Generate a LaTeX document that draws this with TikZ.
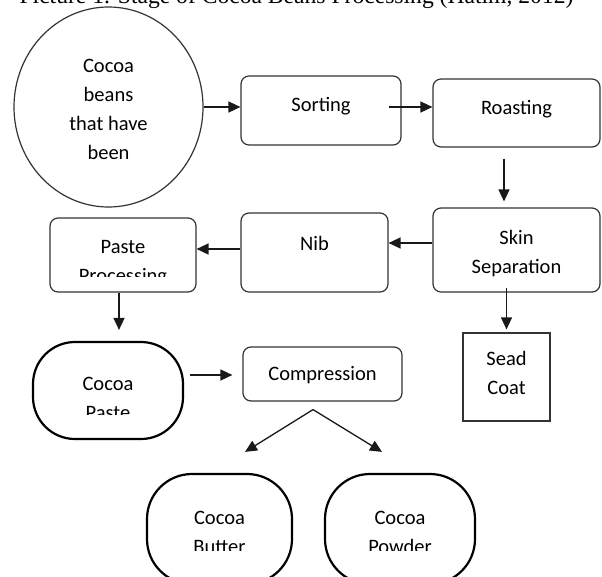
\documentclass[tikz,border=0pt]{standalone}
\usepackage{fontspec}
\setmainfont{Carlito}
\newfontfamily\titlefont{Liberation Serif}
\usetikzlibrary{arrows.meta, shapes.geometric}

\begin{document}
\begin{tikzpicture}[x=1pt, y=-1pt,
    box/.style={rectangle, rounded corners=8pt, draw=black!80, line width=1.2pt, inner sep=0pt},
    blob/.style={rectangle, rounded corners=42pt, draw=black, line width=2.2pt, inner sep=0pt},
    txt/.style={font=\fontsize{20.5}{29}\selectfont, align=center, inner sep=0pt, text=black},
    arr/.style={-{Triangle[length=12pt,width=11pt]}, line width=1.5pt, draw=black!90}]

\useasboundingbox (0,0) rectangle (602,576);
\clip (0,0) rectangle (602,576);

\node[anchor=base, font=\titlefont\fontsize{23.6}{28}\selectfont] (title) at (296.5,3) {Picture 1. Stage of Cocoa Beans Processing (Hatim, 2012)};

% shapes
\node[ellipse, draw=black!80, line width=1.2pt, minimum width=189pt, minimum height=200pt, inner sep=0pt] (beans) at (108.5,107) {};
\node[box, minimum width=160pt, minimum height=69pt] (sorting) at (321,110.5) {};
\node[box, minimum width=167pt, minimum height=68pt] (roasting) at (516.5,113) {};
\node[box, minimum width=167pt, minimum height=84pt] (skinsep) at (516.5,250) {};
\node[box, minimum width=147pt, minimum height=79pt] (nib) at (314.5,252.5) {};
\node[box, minimum width=146pt, minimum height=74pt] (pasteproc) at (123,255) {};
\node[box, minimum width=159pt, minimum height=54pt] (compression) at (322.5,374) {};
\node[box, rounded corners=0pt, minimum width=87pt, minimum height=88pt] (seadcoat) at (506.5,377) {};
\node[blob, minimum width=150pt, minimum height=97pt] (cocoapaste) at (108,390.5) {};
\node[blob, rounded corners=45pt, minimum width=145pt, minimum height=110pt] (butter) at (219.5,529) {};
\node[blob, rounded corners=45pt, minimum width=150pt, minimum height=110pt] (powder) at (400,529) {};

% texts
\node[txt] (beans-t) at ([yshift=-2pt]beans) {Cocoa\\beans\\that have\\been};
\node[txt] (sorting-t) at ([yshift=4.5pt]sorting) {Sorting};
\node[txt] (roasting-t) at ([yshift=4pt]roasting) {Roasting};
\node[txt] (skinsep-t) at ([yshift=-4pt]skinsep) {Skin\\Separation};
\node[txt] (nib-t) at ([yshift=9.5pt]nib) {Nib};
\node[txt] (compression-t) at ([yshift=-1pt]compression) {Compression};
\node[txt] (seadcoat-t) at ([yshift=4pt]seadcoat) {Sead\\Coat};
\begin{scope}
    \clip (pasteproc.north west) rectangle ([yshift=16pt]pasteproc.south east);
    \node[txt] (pasteproc-t) at ([yshift=-8.5pt]pasteproc) {Paste\\Processing};
\end{scope}
\begin{scope}
    \clip (cocoapaste.north west) rectangle ([yshift=26pt]cocoapaste.south east);
    \node[txt] (cocoapaste-t) at ([yshift=-8pt]cocoapaste) {Cocoa\\Paste};
\end{scope}
\begin{scope}
    \clip (butter.north west) rectangle ([yshift=35pt]powder.south east);
    \node[txt] (butter-t) at ([yshift=-3.5pt]butter) {Cocoa\\Butter};
    \node[txt] (powder-t) at ([yshift=-3.5pt]powder) {Cocoa\\Powder};
\end{scope}

% arrows
\coordinate (split) at ([xshift=-9.5pt,yshift=-8pt]compression.south);
\coordinate (butter-in) at ([xshift=25.5pt,yshift=21pt]butter.north);
\coordinate (powder-in) at ([xshift=-18pt,yshift=21pt]powder.north);

\draw[arr] (beans.east) -- (beans.east -| sorting.west);
\draw[arr] ([xshift=-13pt,yshift=3.5pt]sorting.east) -- ([yshift=3.5pt]sorting.east -| roasting.west);
\draw[arr, shorten <=11pt, shorten >=6pt] ([xshift=-12.5pt]roasting.south) -- ([xshift=-12.5pt]skinsep.north);
\draw[arr] ([yshift=7pt]skinsep.west) -- ([yshift=7pt]skinsep.west -| nib.east);
\draw[arr] ([yshift=3.5pt]nib.west) -- ([yshift=3.5pt]nib.west -| pasteproc.east);
\draw[arr, shorten >=11pt] ([xshift=-4pt]pasteproc.south) -- ([xshift=-4pt]pasteproc.south |- cocoapaste.north);
\draw[arr, shorten <=6pt, shorten >=10pt] ([yshift=15.5pt]cocoapaste.east) -- ([yshift=15.5pt]cocoapaste.east -| compression.west);
\draw[arr, shorten <=-5pt, shorten >=3pt] (skinsep.south -| seadcoat.north) -- (seadcoat.north);
\draw[arr, line width=1.3pt] (split) -- (butter-in);
\draw[arr, line width=1.3pt] (split) -- (powder-in);

\end{tikzpicture}
\end{document}
